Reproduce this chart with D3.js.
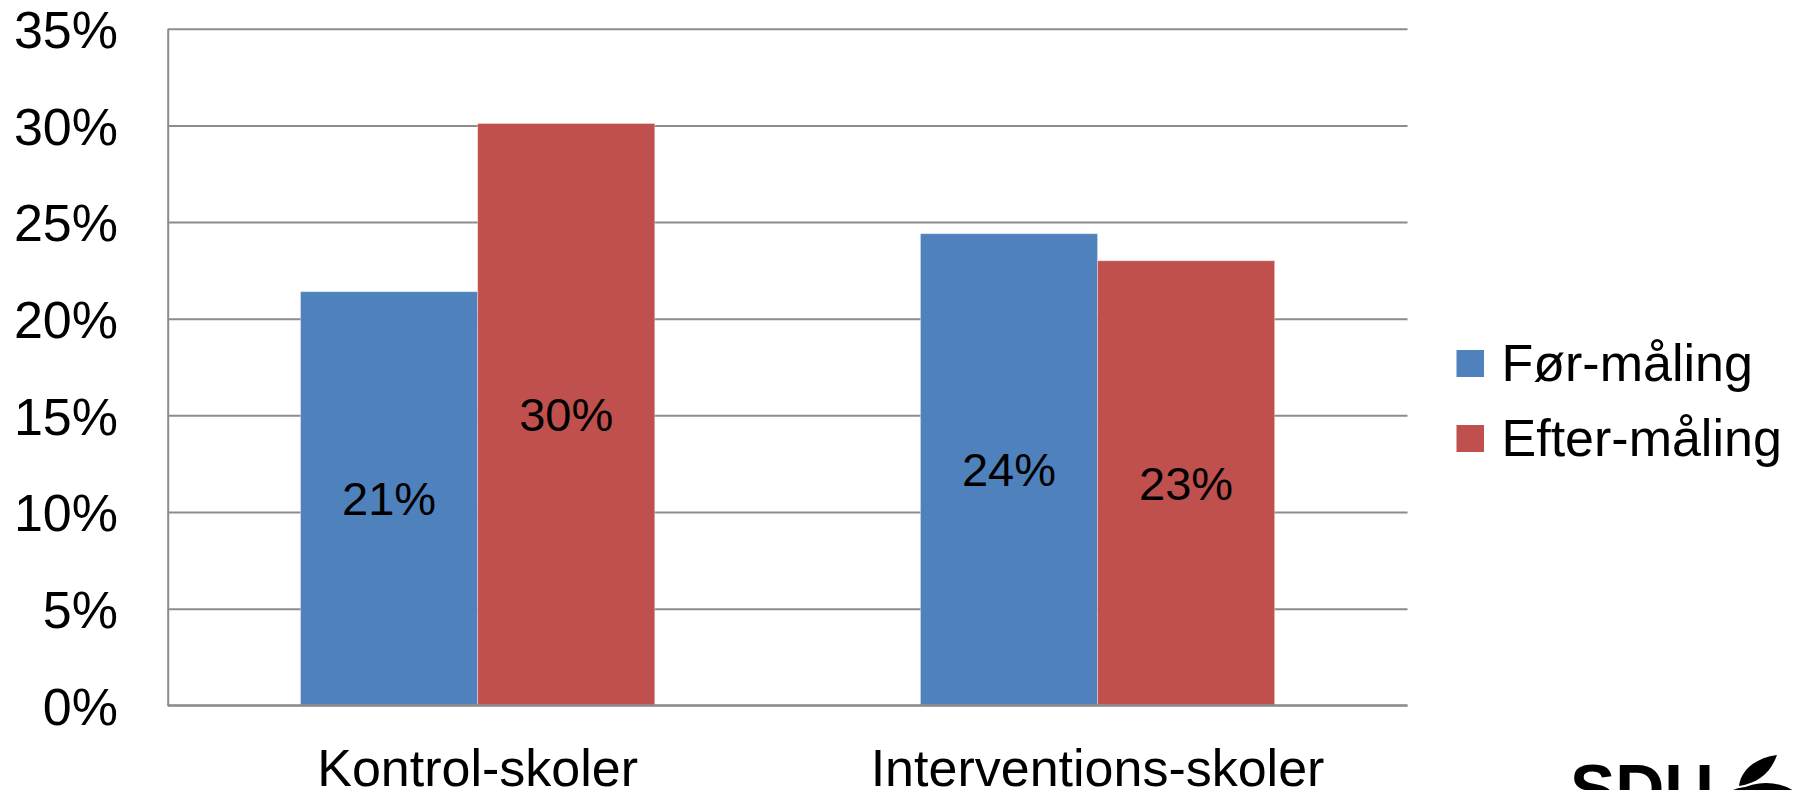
<!DOCTYPE html>
<html>
<head>
<meta charset="utf-8">
<script src="https://cdn.jsdelivr.net/npm/d3@7"></script>
<style>
  html, body { margin: 0; padding: 0; background: #fff; overflow: hidden; }
  svg { display: block; font-family: "Liberation Sans", Arial, sans-serif; }
</style>
</head>
<body>
<svg id="chart" width="1801" height="790"></svg>
<script>
// ---- data ----
const categories = ["Kontrol-skoler", "Interventions-skoler"];
const seriesNames = ["Før-måling", "Efter-måling"];
const forValues = [0.214, 0.244];
const efterValues = [0.301, 0.230];
const yTicks = [0, 0.05, 0.10, 0.15, 0.20, 0.25, 0.30, 0.35];
const colors = ["#4F81BD", "#C0504D"];

const seriesValues = [forValues, efterValues];
const data = categories.map((c, i) => ({
  category: c,
  values: seriesNames.map((s, j) => ({ series: s, value: seriesValues[j][i], color: colors[j] }))
}));

const svg = d3.select("#chart");
const plotLeft = 167.7, plotRight = 1407.5, plotTop = 28.8, plotBottom = 705.3;

const y = d3.scaleLinear().domain([0, 0.35]).range([plotBottom, plotTop]);
const x0 = d3.scaleBand().domain(categories).range([plotLeft, plotRight]).padding(0);
const x1 = d3.scaleBand().domain(seriesNames).range([0, x0.bandwidth()]).paddingInner(0).paddingOuter(0.75);

// y axis with gridlines
const yAxis = d3.axisLeft(y)
  .tickValues(yTicks)
  .tickFormat(d3.format(".0%"))
  .tickSize(-(plotRight - plotLeft))
  .tickSizeOuter(0)
  .tickPadding(49.7);

const gy = svg.append("g").attr("transform", `translate(${plotLeft},0)`).call(yAxis);
gy.selectAll(".tick line").attr("stroke", "#8c8c8c").attr("stroke-width", 2);
gy.select(".domain").attr("stroke", "#8c8c8c").attr("stroke-width", 2);
gy.selectAll(".tick text")
  .attr("fill", "#000")
  .style("font-size", "52px")
  .style("font-family", "'Liberation Sans', Arial, sans-serif")
  .attr("dy", "0.36em");

// bars
const groups = svg.append("g").selectAll("g")
  .data(data).join("g")
  .attr("transform", d => `translate(${x0(d.category)},0)`);

groups.selectAll("rect")
  .data(d => d.values).join("rect")
  .attr("x", d => x1(d.series))
  .attr("y", d => y(d.value))
  .attr("width", x1.bandwidth())
  .attr("height", d => y(0) - y(d.value))
  .attr("fill", d => d.color)
  .attr("stroke", "rgba(255,255,255,0.35)")
  .attr("stroke-width", 1);

// value labels
groups.selectAll("text")
  .data(d => d.values).join("text")
  .attr("x", d => x1(d.series) + x1.bandwidth() / 2)
  .attr("y", d => (y(d.value) + y(0)) / 2)
  .attr("dy", "0.36em")
  .attr("text-anchor", "middle")
  .style("font-size", "47px")
  .attr("fill", "#000")
  .text(d => d3.format(".0%")(d.value));

// baseline redraw on top of bars
svg.append("line")
  .attr("x1", plotLeft).attr("x2", plotRight)
  .attr("y1", y(0)).attr("y2", y(0))
  .attr("stroke", "#8c8c8c").attr("stroke-width", 2);

// category labels
svg.append("g").selectAll("text")
  .data(categories).join("text")
  .attr("x", d => x0(d) + x0.bandwidth() / 2)
  .attr("y", 785.5)
  .attr("text-anchor", "middle")
  .style("font-size", "52px")
  .attr("fill", "#000")
  .text(d => d);

// legend
const legend = svg.append("g").selectAll("g")
  .data(seriesNames).join("g")
  .attr("transform", (d, i) => `translate(1456.5,${350 + i * 75})`);
legend.append("rect")
  .attr("width", 27.5).attr("height", 27)
  .attr("fill", (d, i) => colors[i]);
legend.append("text")
  .attr("x", 45).attr("y", 31)
  .style("font-size", "52px")
  .attr("fill", "#000")
  .text(d => d);

// SDU logo (partial, cut by the bottom edge)
const logo = svg.append("g");
logo.append("text")
  .attr("x", 1570).attr("y", 812)
  .style("font-size", "68px")
  .style("font-weight", "bold")
  .attr("fill", "#000")
  .text("SDU");
logo.append("path")
  .attr("d", "M1739,786 C1741,770 1755,758 1777,755 C1772,770 1760,783 1739,786 Z")
  .attr("fill", "#000");
logo.append("ellipse")
  .attr("cx", 1766).attr("cy", 805).attr("rx", 36).attr("ry", 22)
  .attr("fill", "#000");
logo.append("path")
  .attr("d", "M1727,795 C1737,788 1750,787 1760,790")
  .attr("stroke", "#000").attr("stroke-width", 3).attr("fill", "none");
</script>
</body>
</html>
